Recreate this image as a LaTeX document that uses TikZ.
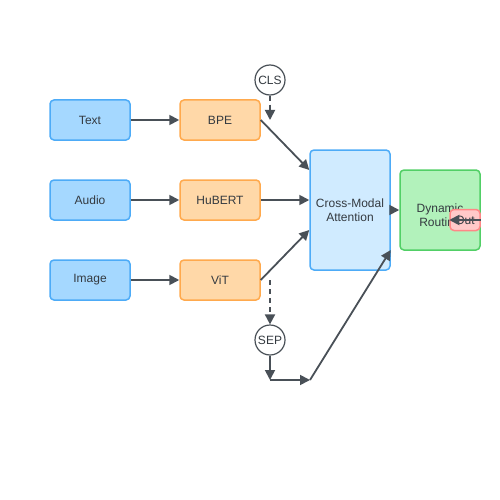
\documentclass[tikz,border=0pt]{standalone}
\usepackage{fontspec}
\setmainfont{Liberation Sans}
\usetikzlibrary{arrows.meta}
\definecolor{bluef}{HTML}{A5D8FF}
\definecolor{bluel}{HTML}{4DABF7}
\definecolor{oranf}{HTML}{FFD8A8}
\definecolor{oranl}{HTML}{FFA94D}
\definecolor{cmf}{HTML}{D0EBFF}
\definecolor{cml}{HTML}{4DABF7}
\definecolor{grnf}{HTML}{B2F2BB}
\definecolor{grnl}{HTML}{51CF66}
\definecolor{redf}{HTML}{FFC9C9}
\definecolor{redl}{HTML}{FF8787}
\definecolor{arr}{HTML}{495057}
\definecolor{txt}{HTML}{343A40}
\tikzset{
  box/.style={draw, line width=1.5pt, rounded corners=4pt, minimum width=80pt, minimum height=40pt, inner sep=0pt, text=txt, font=\fontsize{12}{14}\selectfont, align=center},
  inbox/.style={box, fill=bluef, draw=bluel},
  encbox/.style={box, fill=oranf, draw=oranl},
  tok/.style={circle, draw=arr, fill=white, line width=1.2pt, minimum size=30pt, inner sep=0pt, text=txt, font=\fontsize{12}{14}\selectfont},
  conn/.style={draw=arr, line width=1.8pt, -{Triangle[length=10pt,width=10pt]}},
  dconn/.style={conn, dashed, dash pattern=on 5pt off 4pt},
}
\begin{document}
\begin{tikzpicture}[x=1pt,y=-1pt]
\useasboundingbox (0,0) rectangle (500,500);
\node[inbox] (text) at (90,120) {Text};
\node[inbox] (audio) at (90,200) {Audio};
\node[inbox] (image) at (90,280) {Image};
\node[encbox] (bpe) at (220,120) {BPE};
\node[encbox] (hubert) at (220,200) {HuBERT};
\node[encbox] (vit) at (220,280) {ViT};
\node[box, fill=cmf, draw=cml, minimum height=120pt] (cma) at (350,210) {Cross-Modal\\Attention};
\node[box, fill=grnf, draw=grnl, minimum height=80pt, text depth=0pt] (dyn) at (440,210) {\raisebox{-3pt}{\begin{tabular}{@{}c@{}}Dynamic\\Routing\end{tabular}}};
\node[box, fill=redf, draw=redl, minimum width=30pt, minimum height=21pt] (out) at (465,220) {Out};
\node[tok] (cls) at (270,80) {CLS};
\node[tok] (sep) at (270,340) {SEP};
\coordinate (clsend) at (270,120);
\coordinate (vitd) at (270,280);
\coordinate (sepend) at (270,380);
\coordinate (mid) at (310,380);
\draw[conn] (text) -- (bpe);
\draw[conn] (audio) -- (hubert);
\draw[conn] (image) -- (vit);
\draw[conn] (bpe.east) -- (cma.west |- 0,170);
\draw[conn] (hubert) -- (cma.west |- 0,200);
\draw[conn] (vit.east) -- (cma.west |- 0,230);
\draw[conn] (cma.east) -- (dyn.west);
\draw[dconn] (cls.south) -- (clsend);
\draw[dconn] (vitd) -- (sep.north);
\draw[conn] (sep.south) -- (sepend);
\draw[conn] (sepend) -- (mid);
\draw[conn] (mid) -- (cma.east |- 0,250);
\draw[conn] (out.east) -- (out.west);
\end{tikzpicture}
\end{document}
